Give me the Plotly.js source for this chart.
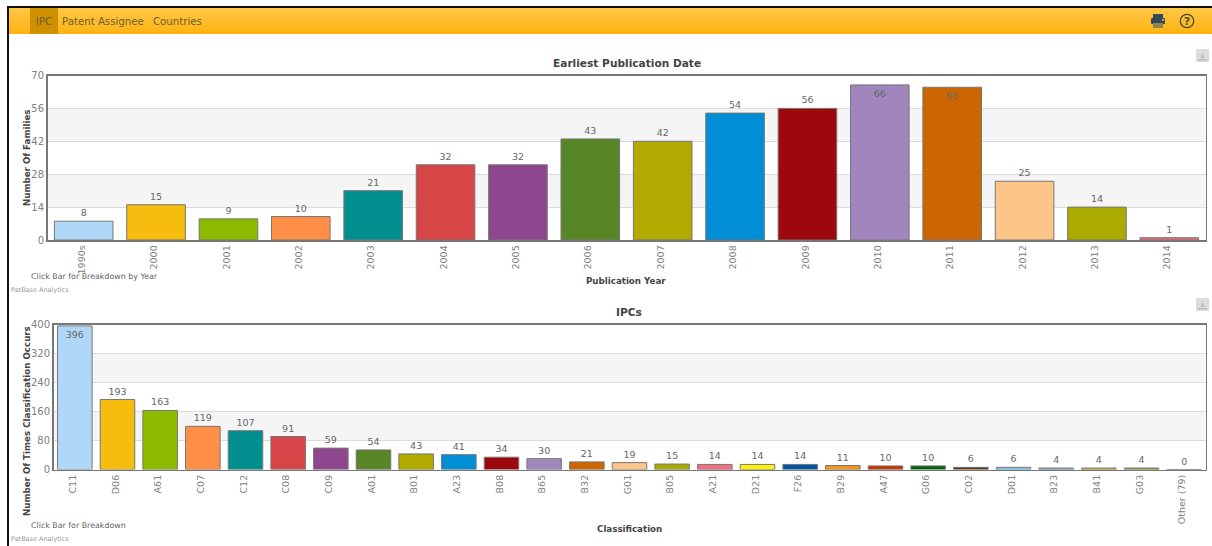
<!DOCTYPE html>
<html><head><meta charset="utf-8">
<script src="https://cdn.plot.ly/plotly-3.0.1.min.js"></script>
<style>
html,body{margin:0;padding:0;background:#fff;width:1212px;height:546px;overflow:hidden;font-family:"DejaVu Sans",sans-serif}
#chart{position:absolute;left:0;top:0;width:1212px;height:546px}
#frameTop{position:absolute;left:7px;top:6px;width:1205px;height:2px;background:#111}
#frameLeft{position:absolute;left:7px;top:6px;width:2px;height:540px;background:#111}
#bar{position:absolute;left:9px;top:8px;width:1203px;height:26px;background:linear-gradient(#ffc748,#ffb30f);color:#6b6030;font-size:10.2px;line-height:27px}
#bar span{position:absolute;top:0;height:26px}
#ipc{left:21px;width:28px;background:#cf9000;text-align:center}
#pa{left:53px}#co{left:144px}
.ic{position:absolute}
</style></head><body>
<div id="chart"></div>
<div id="frameTop"></div><div id="frameLeft"></div>
<div id="bar"><span id="ipc">IPC</span><span id="pa">Patent Assignee</span><span id="co">Countries</span></div>
<svg class="ic" style="left:1150px;top:13px" width="16" height="16" viewBox="0 0 16 16">
<rect x="3" y="1" width="10" height="4" fill="#34495a"/><rect x="1" y="5" width="14" height="6" rx="1" fill="#34495a"/>
<rect x="3" y="10" width="10" height="5" fill="#8d8450"/><circle cx="13" cy="7" r="1" fill="#ffc748"/></svg>
<svg class="ic" style="left:1179px;top:13px" width="16" height="16" viewBox="0 0 16 16">
<circle cx="8" cy="8" r="6.7" fill="none" stroke="#4b4a35" stroke-width="1.3"/>
<text x="8" y="12" text-anchor="middle" font-size="11" font-weight="bold" fill="#4b4a35" font-family="DejaVu Sans">?</text></svg>
<svg class="ic" style="left:1196px;top:49px" width="13" height="13" viewBox="0 0 13 13"><rect width="13" height="13" rx="1" fill="#dcdcdc"/><path d="M2 10h9v1.5H2zM4.5 9L6.5 4 8.500 9z" fill="#bcbcbc"/></svg>
<svg class="ic" style="left:1196px;top:298px" width="13" height="13" viewBox="0 0 13 13"><rect width="13" height="13" rx="1" fill="#dcdcdc"/><path d="M2 10h9v1.500H2zM4.500 9L6.500 4 8.500 9z" fill="#bcbcbc"/></svg>
<script>
var yearCats=["1990s","2000","2001","2002","2003","2004","2005","2006","2007","2008","2009","2010","2011","2012","2013","2014"];
var yearVals=[8,15,9,10,21,32,32,43,42,54,56,66,65,25,14,1];
var yearColors=["#afd8f8","#f6bd0f","#8bba00","#ff8e46","#008e8e","#d64646","#8e468e","#588526","#b3aa00","#008ed6","#9d080d","#a186be","#cc6600","#fdc689","#abaa00","#f26d7d"];
var yearInside=["2010","2011"];
var ipcCats=["C11","D06","A61","C07","C12","C08","C09","A01","B01","A23","B08","B65","B32","G01","B05","A21","D21","F26","B29","A47","G06","C02","D01","B23","B41","G03","Other (79)"];
var ipcVals=[396,193,163,119,107,91,59,54,43,41,34,30,21,19,15,14,14,14,11,10,10,6,6,4,4,4,0];
var ipcColors=["#afd8f8","#f6bd0f","#8bba00","#ff8e46","#008e8e","#d64646","#8e468e","#588526","#b3aa00","#008ed6","#9d080d","#a186be","#cc6600","#fdc689","#abaa00","#f26d7d","#fff200","#0054a6","#f7941c","#cc3300","#006600","#663300","#6dcff6","#7da7d9","#e2a800","#7ab317","#808080"];
var ipcInside=["C11"];
var yearTicks=[0,14,28,42,56,70];
var ipcTicks=[0,80,160,240,320,400];
function trace(c,v,col,ins,xa,ya){return {type:"bar",x:c,y:v,xaxis:xa,yaxis:ya,width:0.81,
 marker:{color:col,line:{color:"#777",width:1}},
 text:v.map(String),textposition:c.map(function(k){return ins.indexOf(k)>=0?"inside":"outside"}),
 insidetextanchor:"end",constraintext:"none",cliponaxis:false,
 textfont:{family:"DejaVu Sans",size:9.5,color:"#666"},hoverinfo:"x+y"};}
function xd(ya){return ya==="y"?[47.5/1212,1205.5/1212]:[53.5/1212,1205.5/1212];}
function band(ticks,ya,i){return {type:"rect",xref:"paper",yref:ya,x0:xd(ya)[0],x1:xd(ya)[1],y0:ticks[i],y1:ticks[i+1],fillcolor:"#f5f5f5",line:{width:0},layer:"below"};}
function yaxis(ticks,dom,anchor){return {domain:dom,range:[ticks[0],ticks[5]],tickvals:ticks,anchor:anchor,
 tickfont:{family:"DejaVu Sans",size:10,color:"#808080"},ticks:"",ticklen:0,showgrid:true,gridcolor:"#dcdcdc",gridwidth:1,zeroline:false,
 showline:true,linecolor:"#777",linewidth:1.5,mirror:true,fixedrange:true,automargin:false};}
function xaxis(dom,anchor){return {domain:dom,type:"category",anchor:anchor,tickangle:-90,ticklabelshift:-2,
 tickfont:{family:"DejaVu Sans",size:9.5,color:"#808080"},ticks:"",showgrid:false,zeroline:false,
 showline:true,linecolor:"#777",linewidth:1.5,mirror:true,fixedrange:true,automargin:false};}
function note(t,x,y,size,col,bold,anchor,angle){return {text:t,xref:"paper",yref:"paper",x:x/1212,y:1-y/546,xanchor:anchor||"left",yanchor:"middle",showarrow:false,borderpad:0,borderwidth:0,textangle:angle||0,
 font:{family:"DejaVu Sans",size:size,color:col,weight:bold?"bold":"normal"}};}
var layout={width:1212,height:546,margin:{l:0,r:0,t:0,b:0},paper_bgcolor:"#fff",plot_bgcolor:"#fff",showlegend:false,
 xaxis:xaxis(xd("y"),"y"),
 yaxis:yaxis(yearTicks,[1-240/546,1-75.5/546],"x"),
 xaxis2:xaxis(xd("y2"),"y2"),
 yaxis2:yaxis(ipcTicks,[1-469.5/546,1-324.5/546],"x2"),
 shapes:[band(yearTicks,"y",1),band(yearTicks,"y",3),band(ipcTicks,"y2",1),band(ipcTicks,"y2",3)],
 annotations:[
  note("Earliest Publication Date",627,63,10.6,"#444",true,"center"),
  note("IPCs",629,312,10.6,"#444",true,"center"),
  note("Publication Year",626,281,8.7,"#444",true,"center"),
  note("Classification",629,529,8.7,"#444",true,"center"),
  note("Number Of Families",27,158,8.7,"#444",true,"center",-90),
  note("Number Of Times Classification Occurs",27,421,8.7,"#444",true,"center",-90),
  note("Click Bar for Breakdown by Year",31,276,7.9,"#666"),
  note("Click Bar for Breakdown",31,525,7.9,"#666"),
  note("PatBase Analytics",11,290,6.5,"#999"),
  note("PatBase Analytics",11,539,6.5,"#999")
 ]};
Plotly.newPlot("chart",[trace(yearCats,yearVals,yearColors,yearInside,"x","y"),trace(ipcCats,ipcVals,ipcColors,ipcInside,"x2","y2")],layout,{displayModeBar:false,staticPlot:true});
</script></body></html>
